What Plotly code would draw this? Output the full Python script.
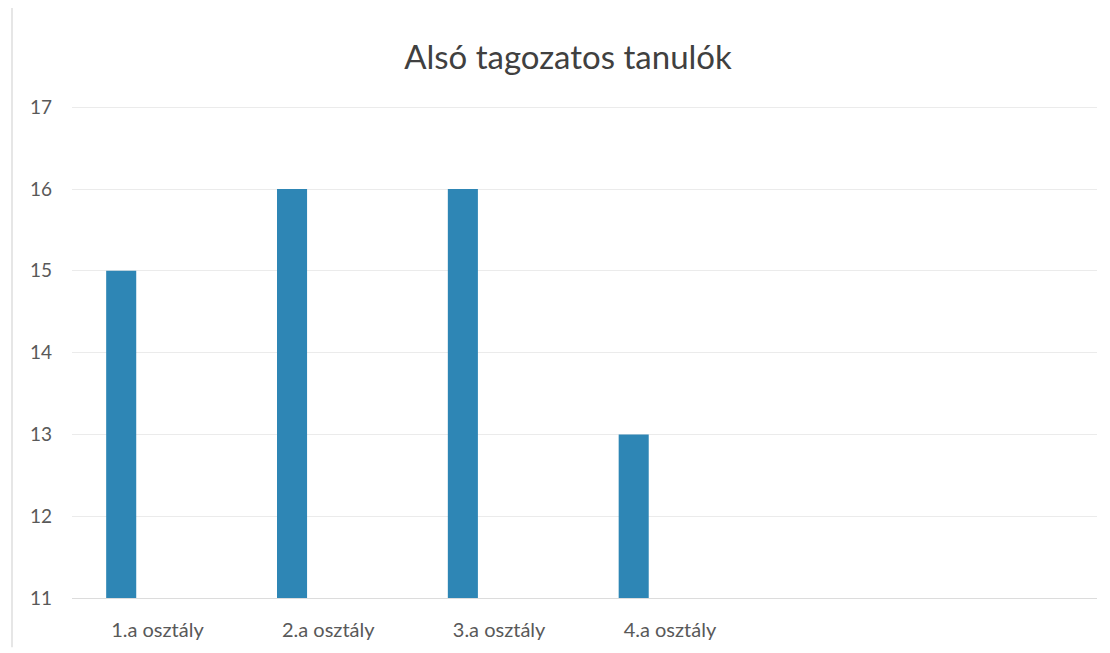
import plotly.graph_objects as go

categories = ["1.a osztály", "2.a osztály", "3.a osztály", "4.a osztály"]
values = [15, 16, 16, 13]
y_ticks = [11, 12, 13, 14, 15, 16, 17]
title_text = "Alsó tagozatos tanulók"

W, H = 1102, 645
ML, MR, MT, MB = 64, 13, 98, 55

fig = go.Figure()
fig.add_trace(go.Bar(
    x=categories, y=values,
    marker=dict(color="#2E86B5", line=dict(width=0)),
    width=0.176, offset=-0.30,
    showlegend=False,
))

pw = W - ML - MR
fig.add_shape(type="line", xref="paper", yref="paper",
              x0=(4 - ML) / pw, x1=(4 - ML) / pw, y0=-0.1, y1=1.2,
              line=dict(color="#e6e6e6", width=2))

fig.update_layout(
    width=W, height=H,
    paper_bgcolor="white", plot_bgcolor="white",
    margin=dict(l=ML, r=MR, t=MT, b=MB),
    title=dict(text=title_text, x=560 / W, xanchor="center", y=1 - 49 / H, yanchor="middle",
               font=dict(family="Lato", size=33, color="#404040")),
    font=dict(family="Lato", color="#595959"),
    xaxis=dict(type="category", range=[-0.5, 5.5], showgrid=False, showline=True,
               linecolor="#dcdcdc", linewidth=1, ticks="", tickfont=dict(size=20, color="#595959"),
               ticklabelstandoff=14, zeroline=False),
    yaxis=dict(range=[11, 17.015], tickvals=y_ticks, showgrid=True, gridcolor="#ebebeb", gridwidth=1,
               showline=False, zeroline=False, ticks="", tickfont=dict(size=19, color="#595959"),
               ticklabelstandoff=19),
)
fig.write_html("out.html")
